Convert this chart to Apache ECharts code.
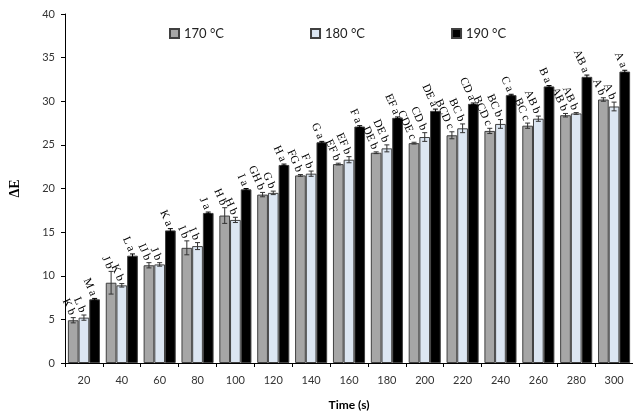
<!DOCTYPE html>
<html><head><meta charset="utf-8">
<script src="https://cdn.jsdelivr.net/npm/echarts@6/dist/echarts.min.js"></script>
<style>html,body{margin:0;padding:0;background:#fff}#c{width:633px;height:416px}</style>
</head><body><div id="c"></div>
<script>
var categories = ['20','40','60','80','100','120','140','160','180','200','220','240','260','280','300'];
var seriesNames = ['170 °C','180 °C','190 °C'];
var v170 = [4.9, 9.2, 11.2, 13.2, 16.9, 19.3, 21.5, 22.8, 24.1, 25.2, 26.1, 26.6, 27.2, 28.4, 30.2];
var v180 = [5.2, 8.9, 11.3, 13.4, 16.4, 19.5, 21.7, 23.3, 24.6, 25.9, 26.9, 27.4, 28.0, 28.6, 29.4];
var v190 = [7.3, 12.3, 15.2, 17.2, 19.9, 22.7, 25.3, 27.1, 28.1, 28.9, 29.7, 30.7, 31.7, 32.8, 33.4];
var e170 = [0.3, 1.3, 0.3, 0.8, 0.9, 0.25, 0.1, 0.1, 0.1, 0.1, 0.4, 0.3, 0.3, 0.2, 0.2];
var e180 = [0.3, 0.2, 0.2, 0.4, 0.3, 0.2, 0.3, 0.35, 0.4, 0.5, 0.5, 0.5, 0.3, 0.1, 0.5];
var e190 = [0.1, 0.2, 0.2, 0.1, 0.1, 0.1, 0.1, 0.1, 0.1, 0.2, 0.1, 0.1, 0.1, 0.2, 0.15];
var l170 = ['K b','J b','IJ b','I b','H b','GH b','FG b','EF b','DE b','CDE c','BCD c','BCD c','BC c','AB b','A b'];
var l180 = ['L b','K b','J b','I b','H b','G b','F b','EF b','DE b','CD b','BC b','BC b','AB b','AB b','A b'];
var l190 = ['M a','L a','K a','J a','I a','H a','G a','F a','EF a','DE a','CD a','C a','B a','AB a','A a'];
var tickLabels = [0,5,10,15,20,25,30,35,40];

var colors = ['#a6a6a6','#dce6f2','#000000'];
var vals = [v170, v180, v190], errs = [e170, e180, e190], labs = [l170, l180, l190];
var BW = 10.7;

function errSeries(k){
  return {
    type:'custom', name:seriesNames[k]+' err', z:5, silent:true,
    data: vals[k].map(function(v,i){return [i, v, errs[k][i]];}),
    renderItem:function(params, api){
      var i = api.value(0), v = api.value(1), e = api.value(2);
      var off = (k-1)*BW;
      var hi = api.coord([i, v+e]), lo = api.coord([i, v-e]);
      var x = hi[0] + off;
      var cw = 2.5;
      var ec = k===2 ? '#000' : '#333';
      var children = [
        {type:'line', shape:{x1:x,y1:hi[1],x2:x,y2:lo[1]}, style:{stroke:ec,lineWidth:1}},
        {type:'line', shape:{x1:x-cw,y1:hi[1],x2:x+cw,y2:hi[1]}, style:{stroke:ec,lineWidth:1}},
        {type:'line', shape:{x1:x-cw,y1:lo[1],x2:x+cw,y2:lo[1]}, style:{stroke:ec,lineWidth:1}},
        {type:'text', x:x-1, y:hi[1]-3, rotation:-66*Math.PI/180,
          style:{text:labs[k][i], align:'right', verticalAlign:'middle', fill:'#000',
            font:'11.5px "Liberation Serif", "Times New Roman", serif'}}
      ];
      return {type:'group', children:children};
    }
  };
}

var series = [];
for (var k=0;k<3;k++){
  series.push({
    type:'bar', name:seriesNames[k], data:vals[k], barWidth:BW, barGap:'0%',
    itemStyle:{color:colors[k], borderColor:'#404040', borderWidth:1},
    emphasis:{disabled:true}
  });
}
for (var k2=0;k2<3;k2++) series.push(errSeries(k2));

var chart = echarts.init(document.getElementById('c'), null, {renderer:'canvas'});
chart.setOption({
  animation:false,
  color:colors,
  legend:{
    data:seriesNames, left:164, top:22, itemWidth:9, itemHeight:9, itemGap:86,
    icon:'rect',
    textStyle:{fontFamily:'Lato, "Open Sans", sans-serif', fontSize:13, color:'#222'}
  },
  grid:{left:56, right:0, top:14, bottom:47, containLabel:false},
  xAxis:{
    type:'category', data:categories,
    name:'Time (s)', nameLocation:'middle', nameGap:36,
    nameTextStyle:{fontFamily:'Lato, "Open Sans", sans-serif', fontWeight:'bold', fontSize:12, color:'#000'},
    axisLine:{lineStyle:{color:'#000', width:1}},
    axisTick:{show:true, length:4, lineStyle:{color:'#000'}},
    axisLabel:{fontFamily:'Lato, "Open Sans", sans-serif', fontSize:11, color:'#333', margin:12}
  },
  yAxis:{
    type:'value', min:0, max:40, interval:5,
    name:'ΔE', nameLocation:'middle', nameGap:43,
    nameTextStyle:{fontFamily:'"Liberation Serif", serif', fontWeight:'bold', fontSize:14, color:'#000'},
    axisLine:{show:true, lineStyle:{color:'#000', width:1}},
    axisTick:{show:true, length:4, lineStyle:{color:'#000'}},
    splitLine:{show:false},
    axisLabel:{fontFamily:'Lato, "Open Sans", sans-serif', fontSize:11, color:'#333', margin:10,
      formatter:function(v){return tickLabels.indexOf(v)>=0 ? String(v) : '';}}
  },
  series:series
});
</script></body></html>
